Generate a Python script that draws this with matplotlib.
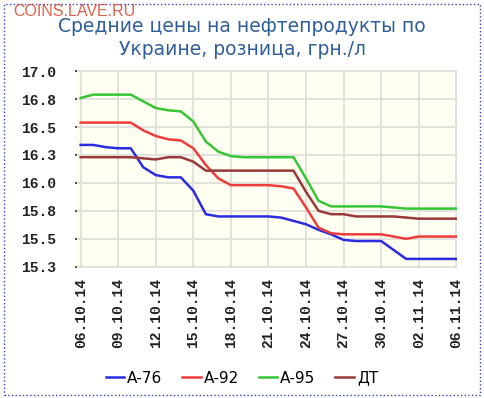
import matplotlib.pyplot as plt
from matplotlib.patches import Rectangle

# даты (категории по оси X), подписи через каждые 3 точки
tick_labels = ['06.10.14', '09.10.14', '12.10.14', '15.10.14', '18.10.14', '21.10.14',
               '24.10.14', '27.10.14', '30.10.14', '02.11.14', '06.11.14']

a76 = [16.34, 16.34, 16.32, 16.31, 16.31, 16.14, 16.07, 16.05, 16.05, 15.93, 15.72,
       15.70, 15.70, 15.70, 15.70, 15.70, 15.69, 15.66, 15.63, 15.58, 15.54, 15.49,
       15.48, 15.48, 15.48, 15.40, 15.32, 15.32, 15.32, 15.32, 15.32]
a92 = [16.54, 16.54, 16.54, 16.54, 16.54, 16.47, 16.42, 16.39, 16.38, 16.31, 16.16,
       16.04, 15.98, 15.98, 15.98, 15.98, 15.97, 15.95, 15.78, 15.60, 15.55, 15.54,
       15.54, 15.54, 15.54, 15.52, 15.50, 15.52, 15.52, 15.52, 15.52]
a95 = [16.76, 16.79, 16.79, 16.79, 16.79, 16.73, 16.67, 16.65, 16.64, 16.55, 16.37,
       16.28, 16.24, 16.23, 16.23, 16.23, 16.23, 16.23, 16.04, 15.84, 15.79, 15.79,
       15.79, 15.79, 15.79, 15.78, 15.77, 15.77, 15.77, 15.77, 15.77]
dt_ = [16.23, 16.23, 16.23, 16.23, 16.23, 16.22, 16.21, 16.23, 16.23, 16.19, 16.11,
       16.11, 16.11, 16.11, 16.11, 16.11, 16.11, 16.11, 15.92, 15.75, 15.72, 15.72,
       15.70, 15.70, 15.70, 15.70, 15.69, 15.68, 15.68, 15.68, 15.68]

series = [('А-76', a76, '#2b2be0'), ('А-92', a92, '#ee3c3c'),
          ('А-95', a95, '#35c535'), ('ДТ', dt_, '#993838')]

y_ticks = [17.0, 16.75, 16.5, 16.25, 16.0, 15.75, 15.5, 15.25]
y_labels = ['17.0', '16.8', '16.5', '16.3', '16.0', '15.8', '15.5', '15.3']

fig = plt.figure(figsize=(4.84, 3.98), dpi=100)
ax = fig.add_axes([0.155, 0.327, 0.789, 0.497])
ax.set_facecolor('#fffff2')

x = list(range(len(a76)))
for name, vals, col in series:
    ax.plot(x, vals, color=col, lw=1.8, label=name)

ax.set_xlim(-0.45, 30.05)
ax.set_ylim(15.24, 17.01)
ax.set_xticks(x[::3])
ax.set_xticklabels(tick_labels, rotation=90)
ax.set_yticks(y_ticks)
ax.set_yticklabels(y_labels)
ax.grid(True, color='#e2e2dc', lw=1.4)
for s in ax.spines.values():
    s.set_visible(False)
ax.tick_params(axis='both', direction='in', length=1.5, width=1.5, color='#555555')
ax.tick_params(axis='y', pad=14)
ax.tick_params(axis='x', pad=7)
for lab in ax.get_xticklabels() + ax.get_yticklabels():
    lab.set_fontfamily('Liberation Mono')
    lab.set_fontweight('bold')
    lab.set_fontsize(10.5)
    lab.set_color('#222222')

fig.text(0.5, 0.905, 'Средние цены на нефтепродукты по\nУкраине, розница, грн./л',
         ha='center', va='center', fontsize=13.5, color='#2f5f9a', linespacing=1.3)
fig.text(0.027, 0.972, 'COINS.LAVE.RU', ha='left', va='center', fontsize=11.5,
         color='#d9452f', alpha=0.85, family='Liberation Sans')

fig.legend(loc='center', bbox_to_anchor=(0.5, 0.05), ncol=4, frameon=False,
           handlelength=1.2, handletextpad=0.2, columnspacing=1.3, fontsize=11)

fig.patches.append(Rectangle((0.009, 0.008), 0.982, 0.982, transform=fig.transFigure,
                             fill=False, ec='#3344cc', lw=1, ls=':'))

fig.savefig('out.png', dpi=100)
